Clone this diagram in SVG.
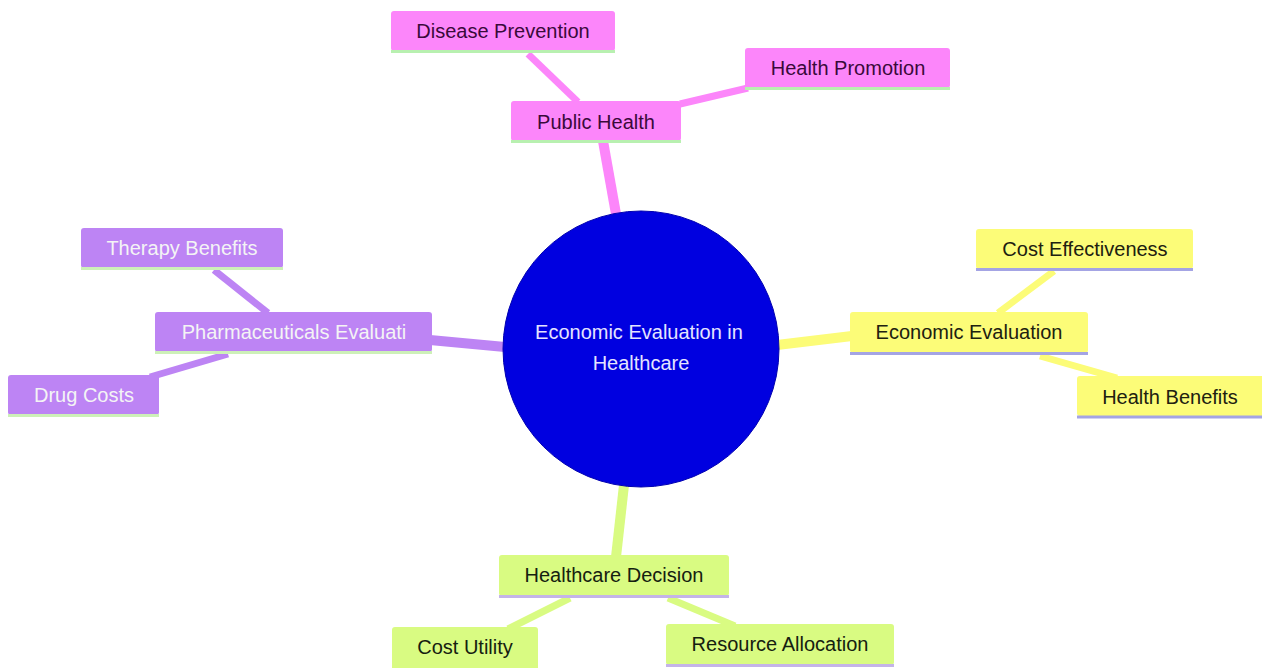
<svg xmlns="http://www.w3.org/2000/svg" width="1262" height="668" viewBox="0 0 1262 668">
<style>
text{font-family:"Liberation Sans",Arial,sans-serif;font-size:20px;text-anchor:middle;dominant-baseline:central}
.pk rect.b{fill:#fc86fa}.pk .u{stroke:#b8f0b0}.pk text{fill:#3a0a3a}
.ye rect.b{fill:#fcfc78}.ye .u{stroke:#a4a4e4}.ye text{fill:#202010}
.gr rect.b{fill:#d9fb82}.gr .u{stroke:#c4b4e8}.gr text{fill:#152010}
.pu rect.b{fill:#bd84f4}.pu .u{stroke:#cdf0b8}.pu text{fill:#f4f4f4}
.u{stroke-width:3;fill:none}
#edges line{stroke-linecap:butt}
.ep{stroke:#fc86fa}.ey{stroke:#fcfc78}.eg{stroke:#d9fb82}.eu{stroke:#bd84f4}
</style>
<rect width="1262" height="668" fill="#ffffff"/>
<g id="edges">
<line class="ep" x1="616" y1="214" x2="603" y2="141" stroke-width="10"/>
<line class="ep" x1="528" y1="54" x2="578" y2="102" stroke-width="7"/>
<line class="ep" x1="680" y1="104" x2="748" y2="88" stroke-width="7"/>
<line class="ey" x1="777" y1="345" x2="852" y2="336" stroke-width="10"/>
<line class="ey" x1="998" y1="313" x2="1054" y2="271" stroke-width="7"/>
<line class="ey" x1="1040" y1="356" x2="1117" y2="378" stroke-width="7"/>
<line class="eu" x1="505" y1="347" x2="430" y2="340" stroke-width="10"/>
<line class="eu" x1="214" y1="270" x2="268" y2="313" stroke-width="7"/>
<line class="eu" x1="228" y1="354" x2="150" y2="377" stroke-width="7"/>
<line class="eg" x1="624" y1="485" x2="616" y2="557" stroke-width="10"/>
<line class="eg" x1="570" y1="598" x2="508" y2="629" stroke-width="7"/>
<line class="eg" x1="668" y1="598" x2="735" y2="626" stroke-width="7"/>
</g>
<g id="root">
<circle cx="641" cy="349" r="138" fill="#0000e0" stroke="#0000b0" stroke-width="1"/>
<text x="639" y="332" fill="#e4e4ff">Economic Evaluation in</text>
<text x="641" y="363" fill="#e4e4ff">Healthcare</text>
</g>
<g id="public-health" class="pk">
<rect class="b" x="511" y="101" width="170" height="40" rx="3"/>
<line class="u" x1="511" y1="141.5" x2="681" y2="141.5"/>
<text x="596" y="122">Public Health</text>
</g>
<g id="disease-prevention" class="pk">
<rect class="b" x="391" y="11" width="224" height="40" rx="3"/>
<line class="u" x1="391" y1="51.5" x2="615" y2="51.5"/>
<text x="503" y="31">Disease Prevention</text>
</g>
<g id="health-promotion" class="pk">
<rect class="b" x="745" y="48" width="205" height="40" rx="3"/>
<line class="u" x1="745" y1="88.5" x2="950" y2="88.5"/>
<text x="848" y="68">Health Promotion</text>
</g>
<g id="economic-evaluation" class="ye">
<rect class="b" x="850" y="312" width="238" height="41" rx="3"/>
<line class="u" x1="850" y1="353.5" x2="1088" y2="353.5"/>
<text x="969" y="332">Economic Evaluation</text>
</g>
<g id="cost-effectiveness" class="ye">
<rect class="b" x="976" y="229" width="217" height="40" rx="3"/>
<line class="u" x1="976" y1="269.5" x2="1193" y2="269.5"/>
<text x="1085" y="249">Cost Effectiveness</text>
</g>
<g id="health-benefits" class="ye">
<rect class="b" x="1077" y="376" width="190" height="40" rx="3"/>
<line class="u" x1="1077" y1="417" x2="1262" y2="417"/>
<text x="1170" y="397">Health Benefits</text>
</g>
<g id="pharmaceuticals-evaluation" class="pu">
<rect class="b" x="155" y="312" width="277" height="40" rx="3"/>
<line class="u" x1="155" y1="352.5" x2="432" y2="352.5"/>
<text x="294" y="332">Pharmaceuticals Evaluati</text>
</g>
<g id="therapy-benefits" class="pu">
<rect class="b" x="81" y="228" width="202" height="40" rx="3"/>
<line class="u" x1="81" y1="268.5" x2="283" y2="268.5"/>
<text x="182" y="248">Therapy Benefits</text>
</g>
<g id="drug-costs" class="pu">
<rect class="b" x="8" y="375" width="151" height="40" rx="3"/>
<line class="u" x1="8" y1="415.5" x2="159" y2="415.5"/>
<text x="84" y="395">Drug Costs</text>
</g>
<g id="healthcare-decision" class="gr">
<rect class="b" x="499" y="555" width="230" height="41" rx="3"/>
<line class="u" x1="499" y1="596.5" x2="729" y2="596.5"/>
<text x="614" y="575">Healthcare Decision</text>
</g>
<g id="cost-utility" class="gr">
<rect class="b" x="392" y="627" width="146" height="45" rx="3"/>
<text x="465" y="647">Cost Utility</text>
</g>
<g id="resource-allocation" class="gr">
<rect class="b" x="666" y="624" width="228" height="41" rx="3"/>
<line class="u" x1="666" y1="665.5" x2="894" y2="665.5"/>
<text x="780" y="644">Resource Allocation</text>
</g>
</svg>
